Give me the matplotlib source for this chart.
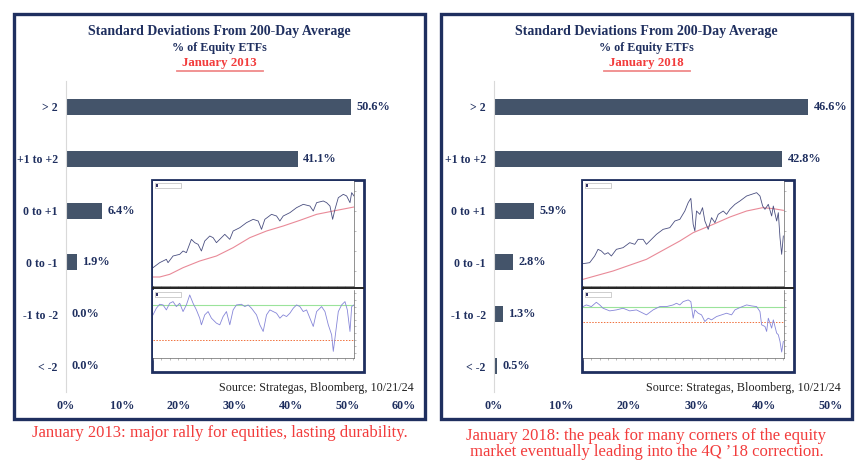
import matplotlib
matplotlib.use('Agg')
from matplotlib import pyplot as plt
from matplotlib.patches import Rectangle
from matplotlib.lines import Line2D

W, H = 868, 469
plt.rcParams['font.family'] = ['Liberation Serif', 'DejaVu Serif']

# bar chart data
categories = ['> 2', '+1 to +2', '0 to +1', '0 to -1', '-1 to -2', '< -2']
values_2013 = [50.6, 41.1, 6.4, 1.9, 0.0, 0.0]
values_2018 = [46.6, 42.8, 5.9, 2.8, 1.3, 0.5]
ticks_2013 = [0, 10, 20, 30, 40, 50, 60]
ticks_2018 = [0, 10, 20, 30, 40, 50]

# inset readings (day index, level) - left inset (2013)
l_price_x = [0, 20, 40, 45, 60, 80, 90, 100, 115, 125, 135, 145, 155, 170, 180, 190, 200, 215, 230, 240,
             260, 280, 300, 315, 325, 335, 355, 370, 380, 390, 410, 430, 450, 470, 480, 490, 510, 520, 530, 538,
             545, 555, 570, 580, 590, 595, 602]
l_price_y = [60, 75, 85, 75, 95, 100, 110, 105, 145, 135, 130, 110, 140, 155, 150, 135, 145, 160, 145, 170,
             180, 195, 205, 200, 175, 205, 220, 215, 200, 215, 225, 240, 250, 245, 230, 255, 260, 255, 245, 205,
             235, 270, 280, 275, 255, 285, 275]
l_ma_x = [0, 20, 50, 90, 140, 190, 240, 290, 340, 390, 440, 490, 540, 602]
l_ma_y = [32, 32, 40, 60, 80, 95, 120, 150, 170, 185, 202, 220, 230, 242]
l_osc_x = [0, 10, 20, 30, 40, 50, 60, 70, 80, 90, 100, 110, 120, 130, 140, 145, 155, 165, 175, 190,
           200, 210, 220, 230, 240, 250, 265, 275, 285, 295, 310, 320, 330, 340, 350, 360, 370, 380, 390, 400,
           410, 420, 430, 440, 450, 460, 470, 480, 490, 505, 515, 525, 535, 540, 545, 555, 565, 575, 582, 590,
           595, 602]
l_osc_y = [135, 155, 167, 165, 150, 170, 175, 160, 170, 145, 165, 195, 170, 150, 125, 105, 135, 145, 125, 110,
           105, 130, 145, 105, 150, 165, 167, 160, 165, 155, 135, 105, 85, 135, 150, 145, 140, 125, 135, 130,
           140, 155, 165, 160, 145, 150, 125, 100, 145, 160, 145, 105, 75, 25, 65, 145, 165, 175, 150, 85,
           160, 165]
l_upper, l_lower = 165, 60

# right inset (2018)
r_price_x = [0, 20, 35, 45, 55, 65, 75, 85, 100, 120, 140, 155, 165, 180, 190, 205, 220, 240, 260, 275,
             290, 305, 315, 323, 330, 335, 340, 350, 358, 365, 375, 385, 395, 405, 420, 430, 440, 455, 470, 490,
             505, 520, 530, 538, 545, 555, 565, 570, 580, 585, 590, 595, 600]
r_price_y = [72, 75, 95, 115, 110, 100, 105, 95, 115, 120, 135, 130, 145, 145, 130, 145, 160, 175, 180, 200,
             205, 230, 255, 268, 190, 170, 230, 220, 240, 200, 175, 210, 195, 220, 230, 220, 235, 250, 260, 275,
             280, 285, 275, 245, 235, 250, 215, 245, 200, 225, 150, 100, 155]
r_ma_x = [0, 90, 190, 290, 330, 390, 440, 490, 538, 570, 600]
r_ma_y = [25, 50, 85, 140, 165, 190, 212, 230, 240, 237, 232]
r_osc_x = [0, 10, 25, 40, 50, 60, 80, 100, 120, 140, 160, 180, 190, 210, 230, 250, 270, 280, 290, 300,
           315, 323, 330, 335, 345, 355, 365, 375, 385, 400, 415, 430, 445, 455, 470, 490, 505, 520, 530, 535,
           545, 550, 555, 565, 570, 580, 585, 590, 595, 600]
r_osc_y = [160, 165, 160, 173, 165, 155, 147, 150, 155, 147, 150, 140, 135, 150, 160, 160, 165, 170, 165, 175,
           180, 175, 125, 150, 140, 135, 115, 125, 120, 130, 135, 140, 135, 150, 157, 165, 162, 160, 145, 105,
           100, 85, 125, 95, 120, 80, 75, 55, 23, 55]
r_upper, r_lower = 160, 113

navy = '#1f2f5f'
bar_col = '#44546a'
red = '#f23c3c'


def box(x0, y0, x1, y1):
    return [x0 / W, 1 - y1 / H, (x1 - x0) / W, (y1 - y0) / H]


def fx(x):
    return x / W


def fy(y):
    return 1 - y / H


fig = plt.figure(figsize=(W / 100, H / 100), dpi=100)


def panel(dx, x0, x1, values, ticks, xmax, year, caption, price, ma, osc, lev):
    # frame
    fig.add_artist(Rectangle((fx(x0), fy(419)), fx(x1 - x0), 405 / H, transform=fig.transFigure,
                             fill=False, edgecolor=navy, lw=2.4))
    cx = (x0 + x1) / 2
    fig.text(fx(cx), fy(32), 'Standard Deviations From 200-Day Average', ha='center', va='center',
             fontsize=10, fontweight='bold', color=navy)
    fig.text(fx(cx), fy(48), '% of Equity ETFs', ha='center', va='center',
             fontsize=8.7, fontweight='bold', color=navy)
    fig.text(fx(cx), fy(63), 'January ' + year, ha='center', va='center',
             fontsize=9.3, fontweight='bold', color=red)
    fig.add_artist(Line2D([fx(cx - 43), fx(cx + 43)], [fy(71), fy(71)], transform=fig.transFigure,
                          color='#f08a8a', lw=1.3))

    ax = fig.add_axes(box(dx[0], 81, dx[1], 392))
    ys = range(len(categories))
    ax.barh(ys, values, height=0.31, color=bar_col)
    for y, v in zip(ys, values):
        ax.text(v + xmax * 0.016, y, f'{v:.1f}%', va='center', ha='left', fontsize=8.8,
                fontweight='bold', color=navy)
    ax.set_xlim(0, xmax)
    ax.set_ylim(len(categories) - 0.5, -0.5)
    ax.set_yticks(list(ys))
    ax.set_yticklabels(categories, fontsize=8.5, fontweight='bold', color=navy)
    ax.set_xticks(ticks)
    ax.set_xticklabels([f'{t}%' for t in ticks], fontsize=8.7, fontweight='bold', color=navy)
    ax.tick_params(length=0)
    ax.tick_params(axis='y', pad=6)
    ax.tick_params(axis='x', pad=6)
    for s in ['top', 'right', 'bottom']:
        ax.spines[s].set_visible(False)
    ax.spines['left'].set_color('#d9d9d9')
    ax.patch.set_alpha(0)

    fig.text(fx(x1 - 11), fy(388), 'Source: Strategas, Bloomberg, 10/21/24', ha='right', va='center',
             fontsize=8.7, color='#222222')
    fig.text(fx(cx), fy(caption[1]), caption[0], ha='center', va='center', fontsize=12,
             color=red, linespacing=1.05)

    # inset chart
    ix = dx[2]
    fig.add_artist(Rectangle((fx(ix), fy(372)), fx(212), 192 / H, transform=fig.transFigure,
                             facecolor='white', edgecolor=navy, lw=2, zorder=5))
    up = fig.add_axes(box(ix + 1, 181, ix + 202, 286), zorder=6)
    up.plot(ma[0], ma[1], color='#e98a98', lw=0.8)
    up.plot(price[0], price[1], color='#4a4f80', lw=0.6)
    up.set_xlim(0, 602)
    up.set_ylim(5, 320)
    lo = fig.add_axes(box(ix + 1, 290, ix + 202, 358), zorder=6)
    lo.axhline(lev[0], color='#9be39b', lw=0.8)
    lo.axhline(lev[1], color='#f0703c', lw=0.7, ls=(0, (1.5, 1.5)))
    lo.plot(osc[0], osc[1], color='#8686d8', lw=0.6)
    lo.set_xlim(0, 602)
    lo.set_ylim(5, 210)
    for a in (up, lo):
        a.yaxis.tick_right()
        a.set_yticklabels([])
        a.set_xticks(range(0, 602, 25))
        a.set_xticklabels([])
        a.tick_params(length=1.2, width=0.4, colors='#888888')
        for s in a.spines.values():
            s.set_linewidth(0.5)
            s.set_color('#666666')
        a.spines['left'].set_visible(False)
        a.spines['top'].set_visible(False)
    up.set_yticks([50, 110, 170, 230, 290])
    lo.set_yticks(range(20, 210, 20))
    fig.add_artist(Line2D([fx(ix + 1), fx(ix + 211)], [fy(288), fy(288)], transform=fig.transFigure,
                          color='#222222', lw=1.4, zorder=7))
    for yy in (183, 292):
        fig.add_artist(Rectangle((fx(ix + 3), fy(yy + 5)), fx(26), 5 / H, transform=fig.transFigure,
                                 facecolor='white', edgecolor='#aaaaaa', lw=0.4, zorder=8))
        fig.add_artist(Rectangle((fx(ix + 4), fy(yy + 4)), fx(1.5), 3 / H, transform=fig.transFigure,
                                 facecolor='#333366', edgecolor='none', zorder=9))


panel((66, 404, 152), 14, 425, values_2013, ticks_2013, 60, '2013',
      ('January 2013: major rally for equities, lasting durability.', 433),
      (l_price_x, l_price_y), (l_ma_x, l_ma_y), (l_osc_x, l_osc_y), (l_upper, l_lower))
panel((494, 831, 582), 441, 852, values_2018, ticks_2018, 50, '2018',
      ('January 2018: the peak for many corners of the equity\n'
       'market eventually leading into the 4Q \u201918 correction.', 444),
      (r_price_x, r_price_y), (r_ma_x, r_ma_y), (r_osc_x, r_osc_y), (r_upper, r_lower))

fig.savefig('out.png', dpi=100)
